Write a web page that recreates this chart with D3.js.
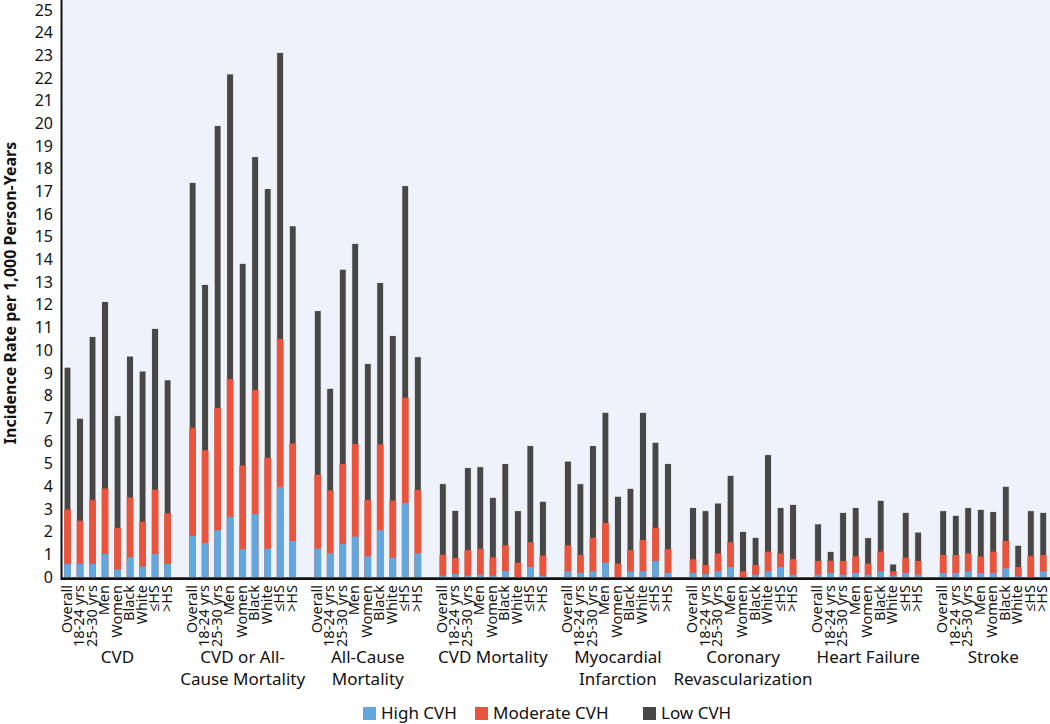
<!DOCTYPE html>
<html><head><meta charset="utf-8">
<script src="https://cdn.jsdelivr.net/npm/d3@7"></script>
<style>body{margin:0;background:#fff}svg{display:block}</style>
</head><body>
<svg id="c" width="1050" height="724"></svg>
<script>
const outcomes = ["CVD","CVD or All-Cause Mortality","All-Cause Mortality","CVD Mortality","Myocardial Infarction","Coronary Revascularization","Heart Failure","Stroke"];
const outcomeLines = [["CVD"],["CVD or All-","Cause Mortality"],["All-Cause","Mortality"],["CVD Mortality"],["Myocardial","Infarction"],["Coronary","Revascularization"],["Heart Failure"],["Stroke"]];
const subgroups = ["Overall","18-24 yrs","25-30 yrs","Men","Women","Black","White","≤HS",">HS"];
const seriesNames = ["High CVH","Moderate CVH","Low CVH"];
const yTicks = d3.range(0,26);

// rates per 1,000 person-years, one row per outcome, one value per subgroup
const lowCVH = [
 [9.25,7.0,10.6,12.14,7.11,9.74,9.08,10.96,8.69],
 [17.40,12.9,19.9,22.18,13.83,18.53,17.12,23.12,15.48],
 [11.74,8.32,13.57,14.71,9.41,12.98,10.64,17.25,9.71],
 [4.11,2.94,4.82,4.86,3.51,5.0,2.92,5.79,3.34],
 [5.11,4.11,5.79,7.26,3.56,3.91,7.26,5.94,5.0],
 [3.06,2.92,3.26,4.48,2.01,1.75,5.39,3.06,3.20],
 [2.34,1.13,2.85,3.06,1.73,3.38,0.57,2.85,1.98],
 [2.92,2.72,3.06,2.98,2.88,4.0,1.40,2.92,2.85]
];
const moderateCVH = [
 [2.98,2.48,3.4,3.9,2.17,3.51,2.44,3.85,2.81],
 [6.58,5.59,7.45,8.72,4.92,8.25,5.26,10.49,5.89],
 [4.51,3.82,4.98,5.86,3.40,5.85,3.37,7.91,3.84],
 [0.98,0.84,1.19,1.25,0.87,1.40,0.63,1.53,0.94],
 [1.40,0.97,1.73,2.39,0.59,1.19,1.63,2.17,1.23],
 [0.78,0.53,1.04,1.53,0.25,0.53,1.12,1.04,0.79],
 [0.71,0.72,0.71,0.91,0.59,1.12,0.25,0.85,0.71],
 [0.97,0.97,1.04,0.90,1.12,1.59,0.44,0.93,0.97]
];
const highCVH = [
 [0.57,0.57,0.57,1.01,0.33,0.87,0.46,1.01,0.57],
 [1.81,1.50,2.06,2.65,1.22,2.78,1.25,3.97,1.59],
 [1.25,1.04,1.46,1.78,0.91,2.06,0.85,3.26,1.04],
 [0.06,0.13,0.06,0.10,0.06,0.26,0.0,0.44,0.06],
 [0.25,0.18,0.25,0.63,0.0,0.25,0.25,0.71,0.18],
 [0.18,0.13,0.25,0.44,0.0,0.10,0.25,0.44,0.10],
 [0.10,0.18,0.10,0.18,0.10,0.25,0.06,0.18,0.10],
 [0.18,0.18,0.25,0.18,0.18,0.38,0.03,0.0,0.25]
];
const colors = ["#62a7de","#ea533c","#474747"];

const svg = d3.select("#c");
const W = 1050, H = 724;
const x0 = 61.25, yTop = 10, yBase = 577;
const FONT = "'Noto Sans', 'Open Sans', sans-serif";

const xGroup = d3.scaleBand().domain(outcomes).range([x0, x0 + 8*125.1]).padding(0);
const xSub = d3.scaleBand().domain([...subgroups, "_gap"]).range([0, 125.1]).paddingInner(0.46).paddingOuter(0.23);
const y = d3.scaleLinear().domain([0,25]).range([yBase, yTop]);

// plot background
svg.append("rect").attr("x", x0).attr("y", 0).attr("width", W - x0).attr("height", yBase)
  .attr("fill", "#eef3fb");

// bars: low (tallest) first, then moderate, then high
const seriesData = [highCVH, moderateCVH, lowCVH];
const gBars = svg.append("g");
[2,1,0].forEach(si => {
  const rows = [];
  outcomes.forEach((o, oi) => subgroups.forEach((s, gi) => rows.push({o, s, v: seriesData[si][oi][gi]})));
  gBars.append("g").selectAll("rect").data(rows).join("rect")
    .attr("x", d => xGroup(d.o) + xSub(d.s))
    .attr("width", xSub.bandwidth())
    .attr("y", d => y(d.v))
    .attr("height", d => yBase - y(d.v))
    .attr("fill", colors[si])
    .attr("stroke", si === 2 ? "#fbfcfe" : "none")
    .attr("stroke-width", si === 2 ? 0.7 : 0);
});

// y axis
const yAxis = d3.axisLeft(y).tickValues(yTicks).tickSize(0).tickPadding(8).tickFormat(d3.format("d"));
const gy = svg.append("g").attr("transform", `translate(${x0 - 0.25},0)`).call(yAxis);
gy.select(".domain").remove();
gy.selectAll("text").attr("font-family", FONT).attr("font-size", 16).attr("fill", "#111");
svg.append("line").attr("x1", 61.5).attr("x2", 61.5).attr("y1", 0).attr("y2", 580)
  .attr("stroke", "#111").attr("stroke-width", 2);
svg.append("line").attr("x1", 61).attr("x2", W).attr("y1", 578.6).attr("y2", 578.6)
  .attr("stroke", "#111").attr("stroke-width", 2.6);

// y title
svg.append("text").attr("transform", "translate(16,293) rotate(-90)")
  .attr("text-anchor", "middle").attr("font-family", FONT).attr("font-weight", "bold")
  .attr("font-size", 16).attr("fill", "#111").text("Incidence Rate per 1,000 Person-Years");

// subgroup labels
const labRows = [];
outcomes.forEach(o => subgroups.forEach(s => labRows.push({o, s})));
svg.append("g").selectAll("text").data(labRows).join("text")
  .attr("transform", d => `translate(${xGroup(d.o) + xSub(d.s) + xSub.bandwidth()/2 + 4},585) rotate(-90)`)
  .attr("text-anchor", "end").attr("font-family", FONT).attr("font-size", 14.5).attr("fill", "#111")
  .text(d => d.s);

// group labels
outcomes.forEach((o, oi) => {
  const cx = xGroup(o) + xSub("Overall") + (xSub(">HS") - xSub("Overall") + xSub.bandwidth())/2;
  const t = svg.append("text").attr("text-anchor", "middle").attr("font-family", FONT)
    .attr("font-size", 17).attr("fill", "#111");
  outcomeLines[oi].forEach((line, li) => {
    t.append("tspan").attr("x", cx).attr("y", 663 + li*21.5).text(line);
  });
});

// legend
const legX = [363, 475, 643];
const leg = svg.append("g");
seriesNames.forEach((n, i) => {
  leg.append("rect").attr("x", legX[i]).attr("y", 707).attr("width", 13).attr("height", 13).attr("fill", colors[i]);
  leg.append("text").attr("x", legX[i] + 18).attr("y", 719).attr("font-family", FONT)
    .attr("font-size", 17).attr("fill", "#111").text(n);
});
</script>
</body></html>
